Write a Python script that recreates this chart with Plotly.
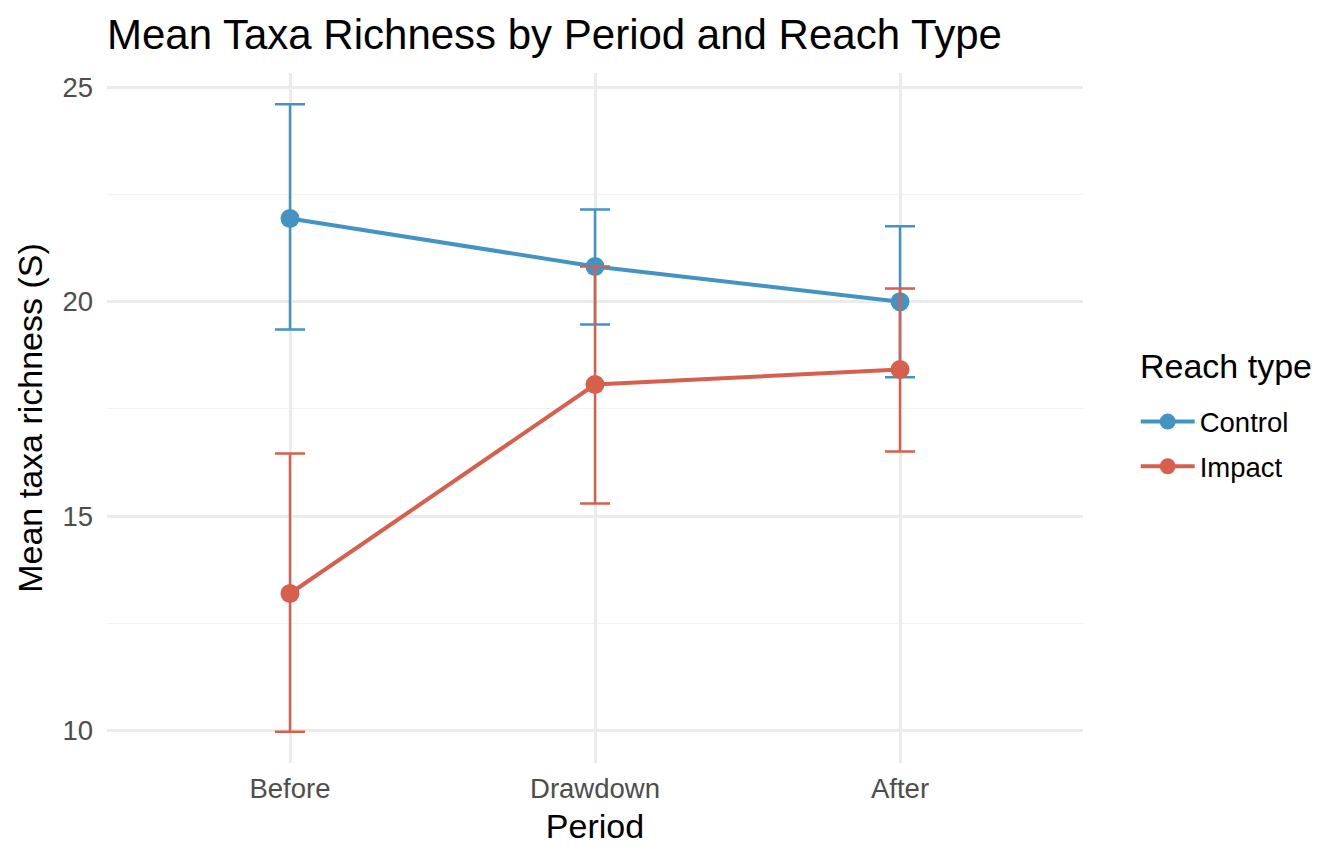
import plotly.graph_objects as go

# Mittelwerte und Fehlerbalken
periods = ["Before", "Drawdown", "After"]
control_mean = [21.94, 20.82, 20.00]
control_upper = [24.60, 22.15, 21.76]
control_lower = [19.35, 19.47, 18.24]
impact_mean = [13.20, 18.07, 18.42]
impact_upper = [16.46, 20.82, 20.31]
impact_lower = [9.98, 15.30, 16.51]

colors = {"Control": "#4393C3", "Impact": "#D6604D"}

fig = go.Figure()

for name, mean, up, lo in [("Control", control_mean, control_upper, control_lower),
                           ("Impact", impact_mean, impact_upper, impact_lower)]:
    fig.add_trace(go.Scatter(
        x=periods, y=mean, name=name, mode='lines+markers', legendgroup=name,
        line=dict(color=colors[name], width=4),
        marker=dict(color=colors[name], size=19),
        error_y=dict(type='data', symmetric=False,
                     array=[u - m for u, m in zip(up, mean)],
                     arrayminus=[m - l for m, l in zip(mean, lo)],
                     color=colors[name], thickness=2.5, width=15),
    ))

# Legendentitel als Annotation (mehr Abstand zu den Einträgen)
fig.add_annotation(text='Reach type', xref='paper', yref='paper', x=1.056, y=0.575,
                   xanchor='left', yanchor='middle', showarrow=False,
                   font=dict(size=34, color='black'))

# Seite hat 8px Rand -> Ränder entsprechend verkleinert
fig.update_layout(
    width=1344, height=864,
    plot_bgcolor='white', paper_bgcolor='white',
    font=dict(family='Liberation Sans, Arial', color='black'),
    title=dict(text='Mean Taxa Richness by Period and Reach Type', x=99 / 1344, xanchor='left',
               y=0.969, yanchor='middle', font=dict(size=42, color='black')),
    margin=dict(l=99, r=269, t=65, b=109),
    legend=dict(font=dict(size=27.5), itemwidth=54,
                x=1.054, xanchor='left', y=0.462, yanchor='middle', tracegroupgap=6),
    xaxis=dict(title=dict(text='Period', font=dict(size=34), standoff=11),
               range=[-0.6, 2.6], showgrid=True, gridcolor='#EBEBEB', gridwidth=2.5,
               zeroline=False, showline=False, ticks='', ticklabelstandoff=6,
               tickfont=dict(size=27.5, color='#4D4D4D')),
    yaxis=dict(title=dict(text='Mean taxa richness (S)', font=dict(size=34), standoff=9),
               range=[9.25, 25.33], dtick=5, tick0=0, showgrid=True, gridcolor='#EBEBEB',
               gridwidth=2.5, zeroline=False, showline=False, ticks='', ticklabelstandoff=13,
               tickfont=dict(size=27.5, color='#4D4D4D'),
               minor=dict(dtick=2.5, tick0=0, showgrid=True, gridcolor='#F2F2F2', gridwidth=1.2)),
)

fig.write_html("out.html")
